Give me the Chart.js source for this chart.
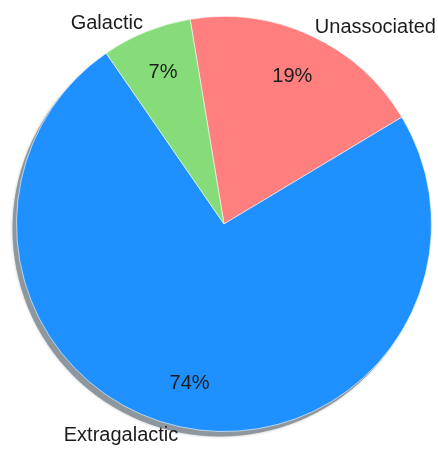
<!DOCTYPE html>
<html>
<head>
<meta charset="utf-8">
<script src="https://cdn.jsdelivr.net/npm/chart.js@4"></script>
<style>
  html, body { margin: 0; padding: 0; background: #fff; }
  #wrap { width: 438px; height: 449px; position: relative; }
</style>
</head>
<body>
<div id="wrap"><canvas id="pie"></canvas></div>
<script>
// datos del gráfico
const categorias = ['Unassociated', 'Extragalactic', 'Galactic'];
const porcentajes = [19, 74, 7];
const colores = ['#FF7F7F', '#1E90FF', '#86DC78'];

const fuente = '"Liberation Sans", Arial, Helvetica, sans-serif';

// sombra gris detrás del pastel
const sombraPlugin = {
    id: 'sombra',
    beforeDatasetsDraw(chart) {
        const arc = chart.getDatasetMeta(0).data[0];
        if (!arc) return;
        const ctx = chart.ctx;
        ctx.save();
        ctx.fillStyle = '#8E969E';
        ctx.shadowColor = 'rgba(0,0,0,0.25)';
        ctx.shadowBlur = 3;
        ctx.beginPath();
        ctx.arc(arc.x - 4, arc.y + 5, arc.outerRadius, 0, Math.PI * 2);
        ctx.fill();
        ctx.restore();
    }
};

// etiquetas: porcentaje dentro, nombre fuera
const etiquetasPlugin = {
    id: 'etiquetas',
    afterDatasetsDraw(chart) {
        const ctx = chart.ctx;
        const meta = chart.getDatasetMeta(0);
        ctx.save();
        ctx.font = '20px ' + fuente;
        ctx.fillStyle = '#1c1c1c';
        meta.data.forEach((arc, i) => {
            const medio = (arc.startAngle + arc.endAngle) / 2;
            const r = arc.outerRadius;
            // porcentaje
            ctx.textAlign = 'center';
            ctx.textBaseline = 'middle';
            ctx.fillText(porcentajes[i] + '%', arc.x + Math.cos(medio) * r * 0.785, arc.y + Math.sin(medio) * r * 0.785);
            // nombre
            const ox = arc.x + Math.cos(medio) * (r + 9);
            const oy = arc.y + Math.sin(medio) * (r + 9);
            ctx.textAlign = ox < arc.x ? 'right' : 'left';
            ctx.fillText(categorias[i], ox, oy);
        });
        ctx.restore();
    }
};

new Chart(document.getElementById('pie'), {
    type: 'pie',
    data: {
        labels: categorias,
        datasets: [{
            data: porcentajes,
            backgroundColor: colores,
            borderColor: 'rgba(255,255,255,0.6)',
            borderWidth: 1
        }]
    },
    options: {
        responsive: true,
        maintainAspectRatio: false,
        animation: false,
        rotation: -9.4,
        layout: {
            padding: { left: 16, right: 6, top: 16, bottom: 17 }
        },
        plugins: {
            legend: { display: false },
            tooltip: { enabled: false }
        }
    },
    plugins: [sombraPlugin, etiquetasPlugin]
});
</script>
</body>
</html>
